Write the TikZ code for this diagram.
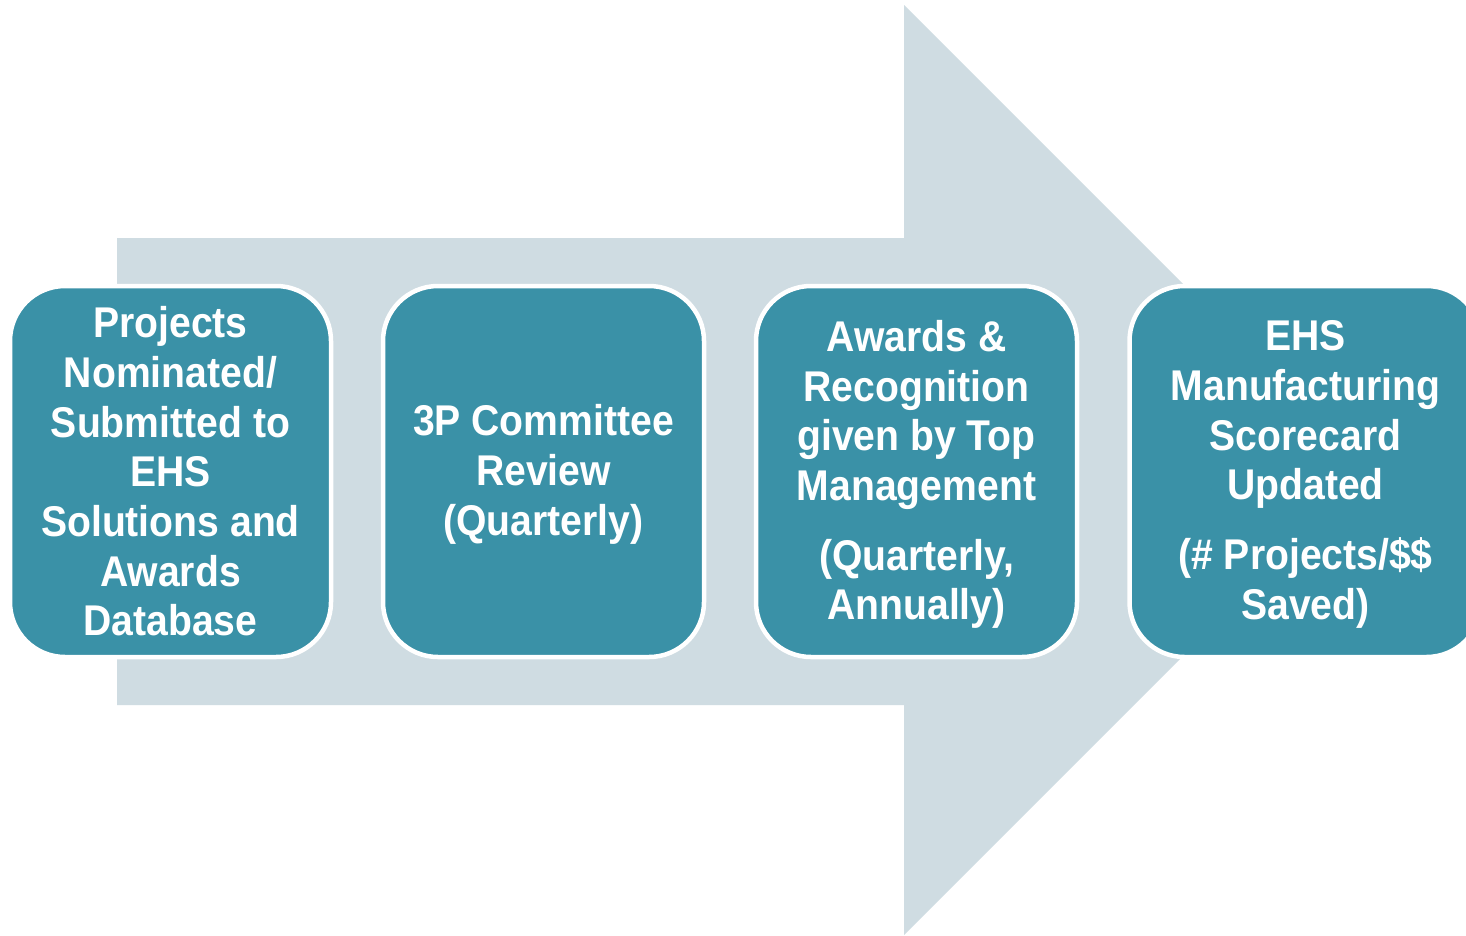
\documentclass[tikz,border=0pt]{standalone}
\usepackage{fontspec}
\newfontfamily\boxfont{Liberation Sans}[FakeStretch=0.91]
\definecolor{teal3P}{HTML}{3A91A7}
\definecolor{arrowgrey}{HTML}{CFDCE2}
\begin{document}
\begin{tikzpicture}[x=1pt,y=-1pt,
  stage/.style={rectangle, rounded corners=55pt, minimum width=321pt,
    minimum height=371pt, fill=teal3P, draw=white, line width=4.5pt,
    inner sep=0pt},
  stagetext/.style={text=white, align=center, inner sep=0pt,
    font=\boxfont\bfseries\fontsize{43}{49.7}\selectfont}]
\useasboundingbox (0,0) rectangle (1466,935);
\fill[white] (0,0) rectangle (1466,935);
% big background arrow
\fill[arrowgrey] (117,238) -- (904,238) -- (904,5) -- (1369,470)
  -- (904,935) -- (904,705) -- (117,705) -- cycle;
% process stages
\node[stage] (s1) at (170.5,471.5) {};
\node[stage] (s2) at (543.5,471.5) {};
\node[stage] (s3) at (916.5,471.5) {};
\node[stage, minimum width=352pt] (s4) at (1305.5,471.5) {};
% stage captions
\node[stagetext] (t1) at (s1.center) {Projects\\Nominated/\\Submitted to\\EHS\\Solutions and\\Awards\\Database};
\node[stagetext] (t2) at ([yshift=-3pt]s2.center) {3P Committee\\Review\\(Quarterly)};
\node[stagetext] (t3) at ([yshift=-3pt]s3.center) {Awards \&\\Recognition\\given by Top\\Management\\[20pt](Quarterly,\\Annually)};
\node[stagetext] (t4) at ([yshift=-3pt]s4.center) {EHS\\Manufacturing\\Scorecard\\Updated\\[20pt](\# Projects/\$\$\\Saved)};
\end{tikzpicture}
\end{document}
